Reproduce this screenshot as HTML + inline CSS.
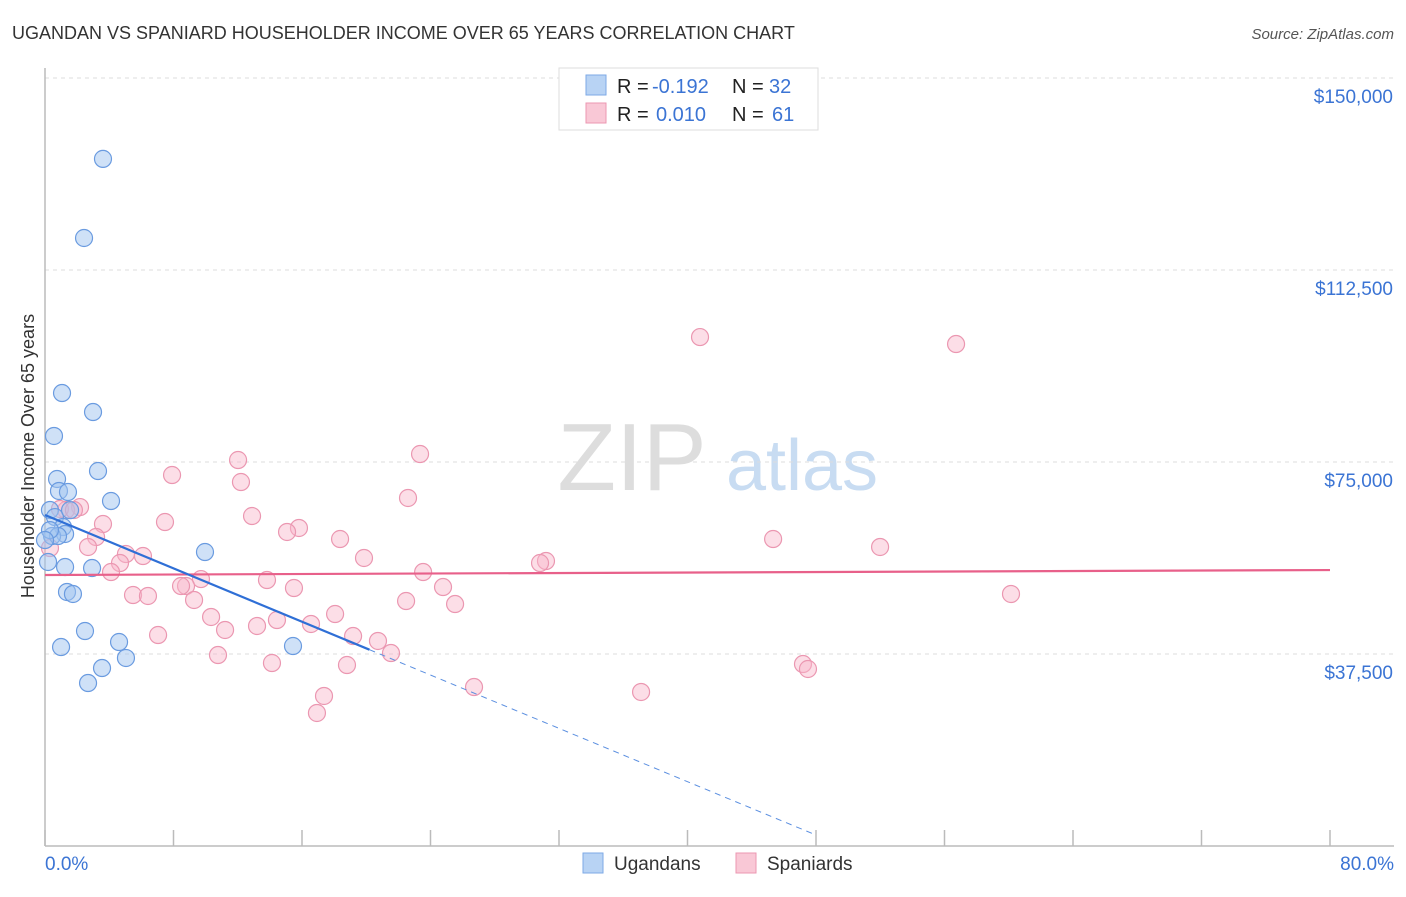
<!DOCTYPE html>
<html><head><meta charset="utf-8"><style>
body{margin:0;background:#fff;font-family:"Liberation Sans",sans-serif}
svg text{font-family:"Liberation Sans",sans-serif}
</style></head><body>
<svg id="chart" width="1406" height="892">
<text x="12" y="39" font-size="18" fill="#333">UGANDAN VS SPANIARD HOUSEHOLDER INCOME OVER 65 YEARS CORRELATION CHART</text>
<text x="1394" y="39" font-size="15" fill="#555" font-style="italic" text-anchor="end">Source: ZipAtlas.com</text>
<g>
<text x="632" y="490" font-size="96" fill="#ddd" font-family="Liberation Serif" text-anchor="middle">ZIP</text>
<text x="802" y="490" font-size="72" fill="#c8dcf2" text-anchor="middle">atlas</text>
</g>
<g id="grid"></g><g id="axes"></g><g id="marks"></g>
<g>
<rect x="559" y="68" width="259" height="62" fill="#fff" stroke="#ddd"/>
<rect x="586" y="75" width="20" height="20" fill="#b8d3f4" stroke="#7ea9e6"/>
<rect x="586" y="103" width="20" height="20" fill="#f9c8d6" stroke="#ec97b2"/>
<text x="617" y="93" font-size="20" fill="#222">R =</text>
<text x="652" y="93" font-size="20" fill="#3b74d4">-0.192</text>
<text x="732" y="93" font-size="20" fill="#222">N =</text>
<text x="769" y="93" font-size="20" fill="#3b74d4">32</text>
<text x="617" y="121" font-size="20" fill="#222">R =</text>
<text x="656" y="121" font-size="20" fill="#3b74d4">0.010</text>
<text x="732" y="121" font-size="20" fill="#222">N =</text>
<text x="772" y="121" font-size="20" fill="#3b74d4">61</text>
</g>
<g>
<rect x="583" y="853" width="20" height="20" fill="#b8d3f4" stroke="#7ea9e6"/>
<text x="614" y="870" font-size="19" fill="#333">Ugandans</text>
<rect x="736" y="853" width="20" height="20" fill="#f9c8d6" stroke="#ec97b2"/>
<text x="767" y="870" font-size="19" fill="#333">Spaniards</text>
</g>
<text x="45" y="870" font-size="19" fill="#3b74d4">0.0%</text>
<text x="1394" y="870" font-size="19" fill="#3b74d4" text-anchor="end">80.0%</text>
<text transform="translate(34,456) rotate(-90)" font-size="18" fill="#333" text-anchor="middle">Householder Income Over 65 years</text>
</svg>
<script>
const yTicks=[37500,75000,112500,150000];
const yTickLabels=["$37,500","$75,000","$112,500","$150,000"];
const blueX=[3.61,2.43,1.06,2.99,0.56,3.30,0.75,0.87,1.43,4.11,0.31,0.62,1.12,1.25,0.44,0.81,9.96,0.19,1.25,2.93,1.37,1.74,2.49,1.0,4.61,15.44,5.04,3.55,2.68,0.31,1.56,0.0];
const blueY=[134200,118750,88470,84760,80080,73240,71680,69340,69140,67380,65620,64250,62300,60940,60540,60540,57420,55470,54490,54290,49610,49220,41990,38860,39840,39060,36720,34760,31830,61700,65600,59760];
const pinkX=[40.78,56.72,12.02,23.35,7.91,12.2,22.6,2.18,1.31,0.93,12.89,7.47,3.61,15.81,15.07,18.37,3.18,45.33,51.99,2.68,0.31,5.04,6.10,19.86,31.19,30.82,4.67,4.11,23.54,13.82,9.71,8.78,8.47,15.5,24.78,5.48,6.41,60.14,9.28,22.48,25.53,18.06,10.34,14.44,16.56,13.2,11.21,7.04,19.18,20.73,21.54,10.77,14.13,18.8,47.19,47.5,26.71,37.11,17.37,16.93,1.8];
const pinkY=[99400,98040,75390,76560,72460,71090,67970,66200,65620,65820,64450,63280,62890,62110,61330,59960,60350,59960,58400,58400,58200,57030,56640,56250,55660,55270,55270,53510,53510,51950,52140,50780,50780,50390,50580,49020,48830,49220,48050,47850,47260,45310,44730,44140,43360,42970,42190,41210,41010,40040,37690,37300,35740,35350,35540,34570,31050,30080,29300,25980,65620];
const blueTrend=[64640,-1302];
const pinkTrend=[52930,12.1];
const xTicks=[0,8,16,24,32,40,48,56,64,72,80];

const NS="http://www.w3.org/2000/svg";
const sx=v=>45+v/80*1285;
const sy=v=>846-v/37500*192;
function mk(tag,attrs,parent){const e=document.createElementNS(NS,tag);for(const k in attrs)e.setAttribute(k,attrs[k]);parent.appendChild(e);return e;}
const grid=document.getElementById('grid'),axes=document.getElementById('axes'),marks=document.getElementById('marks');
yTicks.forEach((t,i)=>{
 const l=mk('line',{x1:45,x2:1394,y1:sy(t),y2:sy(t),stroke:'#ddd','stroke-dasharray':'4,4'},grid);
 
 
 const tx=mk('text',{x:1393,y:sy(t)+25,'font-size':19,fill:'#3b74d4','text-anchor':'end'},axes);
 tx.textContent=yTickLabels[i];
 
 
});
const ya=mk('line',{x1:45,x2:45,y1:68,y2:846,stroke:'#bbb','stroke-width':1.5},axes);


const xa=mk('line',{x1:45,x2:1394,y1:846,y2:846,stroke:'#bbb','stroke-width':1.5},axes);


xTicks.forEach(t=>{
 const l=mk('line',{x1:sx(t),x2:sx(t),y1:830,y2:846,stroke:'#bbb','stroke-width':1.5},axes);
 
 
});
pinkX.forEach((x,i)=>{
 const c=mk('circle',{cx:sx(x),cy:sy(pinkY[i]),r:8.5,fill:'rgba(248,182,202,0.45)',stroke:'#eb97b1','stroke-width':1.2},marks);
 
 
});
blueX.forEach((x,i)=>{
 const c=mk('circle',{cx:sx(x),cy:sy(blueY[i]),r:8.5,fill:'rgba(160,196,240,0.5)',stroke:'#6a9be0','stroke-width':1.2},marks);
 
 
});
const pl=mk('line',{x1:sx(0),y1:sy(pinkTrend[0]),x2:sx(80),y2:sy(pinkTrend[0]+pinkTrend[1]*80),stroke:'#e8608a','stroke-width':2.2},marks);


const bl=mk('line',{x1:sx(0),y1:sy(blueTrend[0]),x2:sx(20.2),y2:sy(blueTrend[0]+blueTrend[1]*20.2),stroke:'#2f6fd6','stroke-width':2.2},marks);


const bd=mk('line',{x1:sx(20.2),y1:sy(blueTrend[0]+blueTrend[1]*20.2),x2:sx(48),y2:sy(blueTrend[0]+blueTrend[1]*48),stroke:'#5b8fe0','stroke-width':1,'stroke-dasharray':'6,5'},marks);


</script>
</body></html>
